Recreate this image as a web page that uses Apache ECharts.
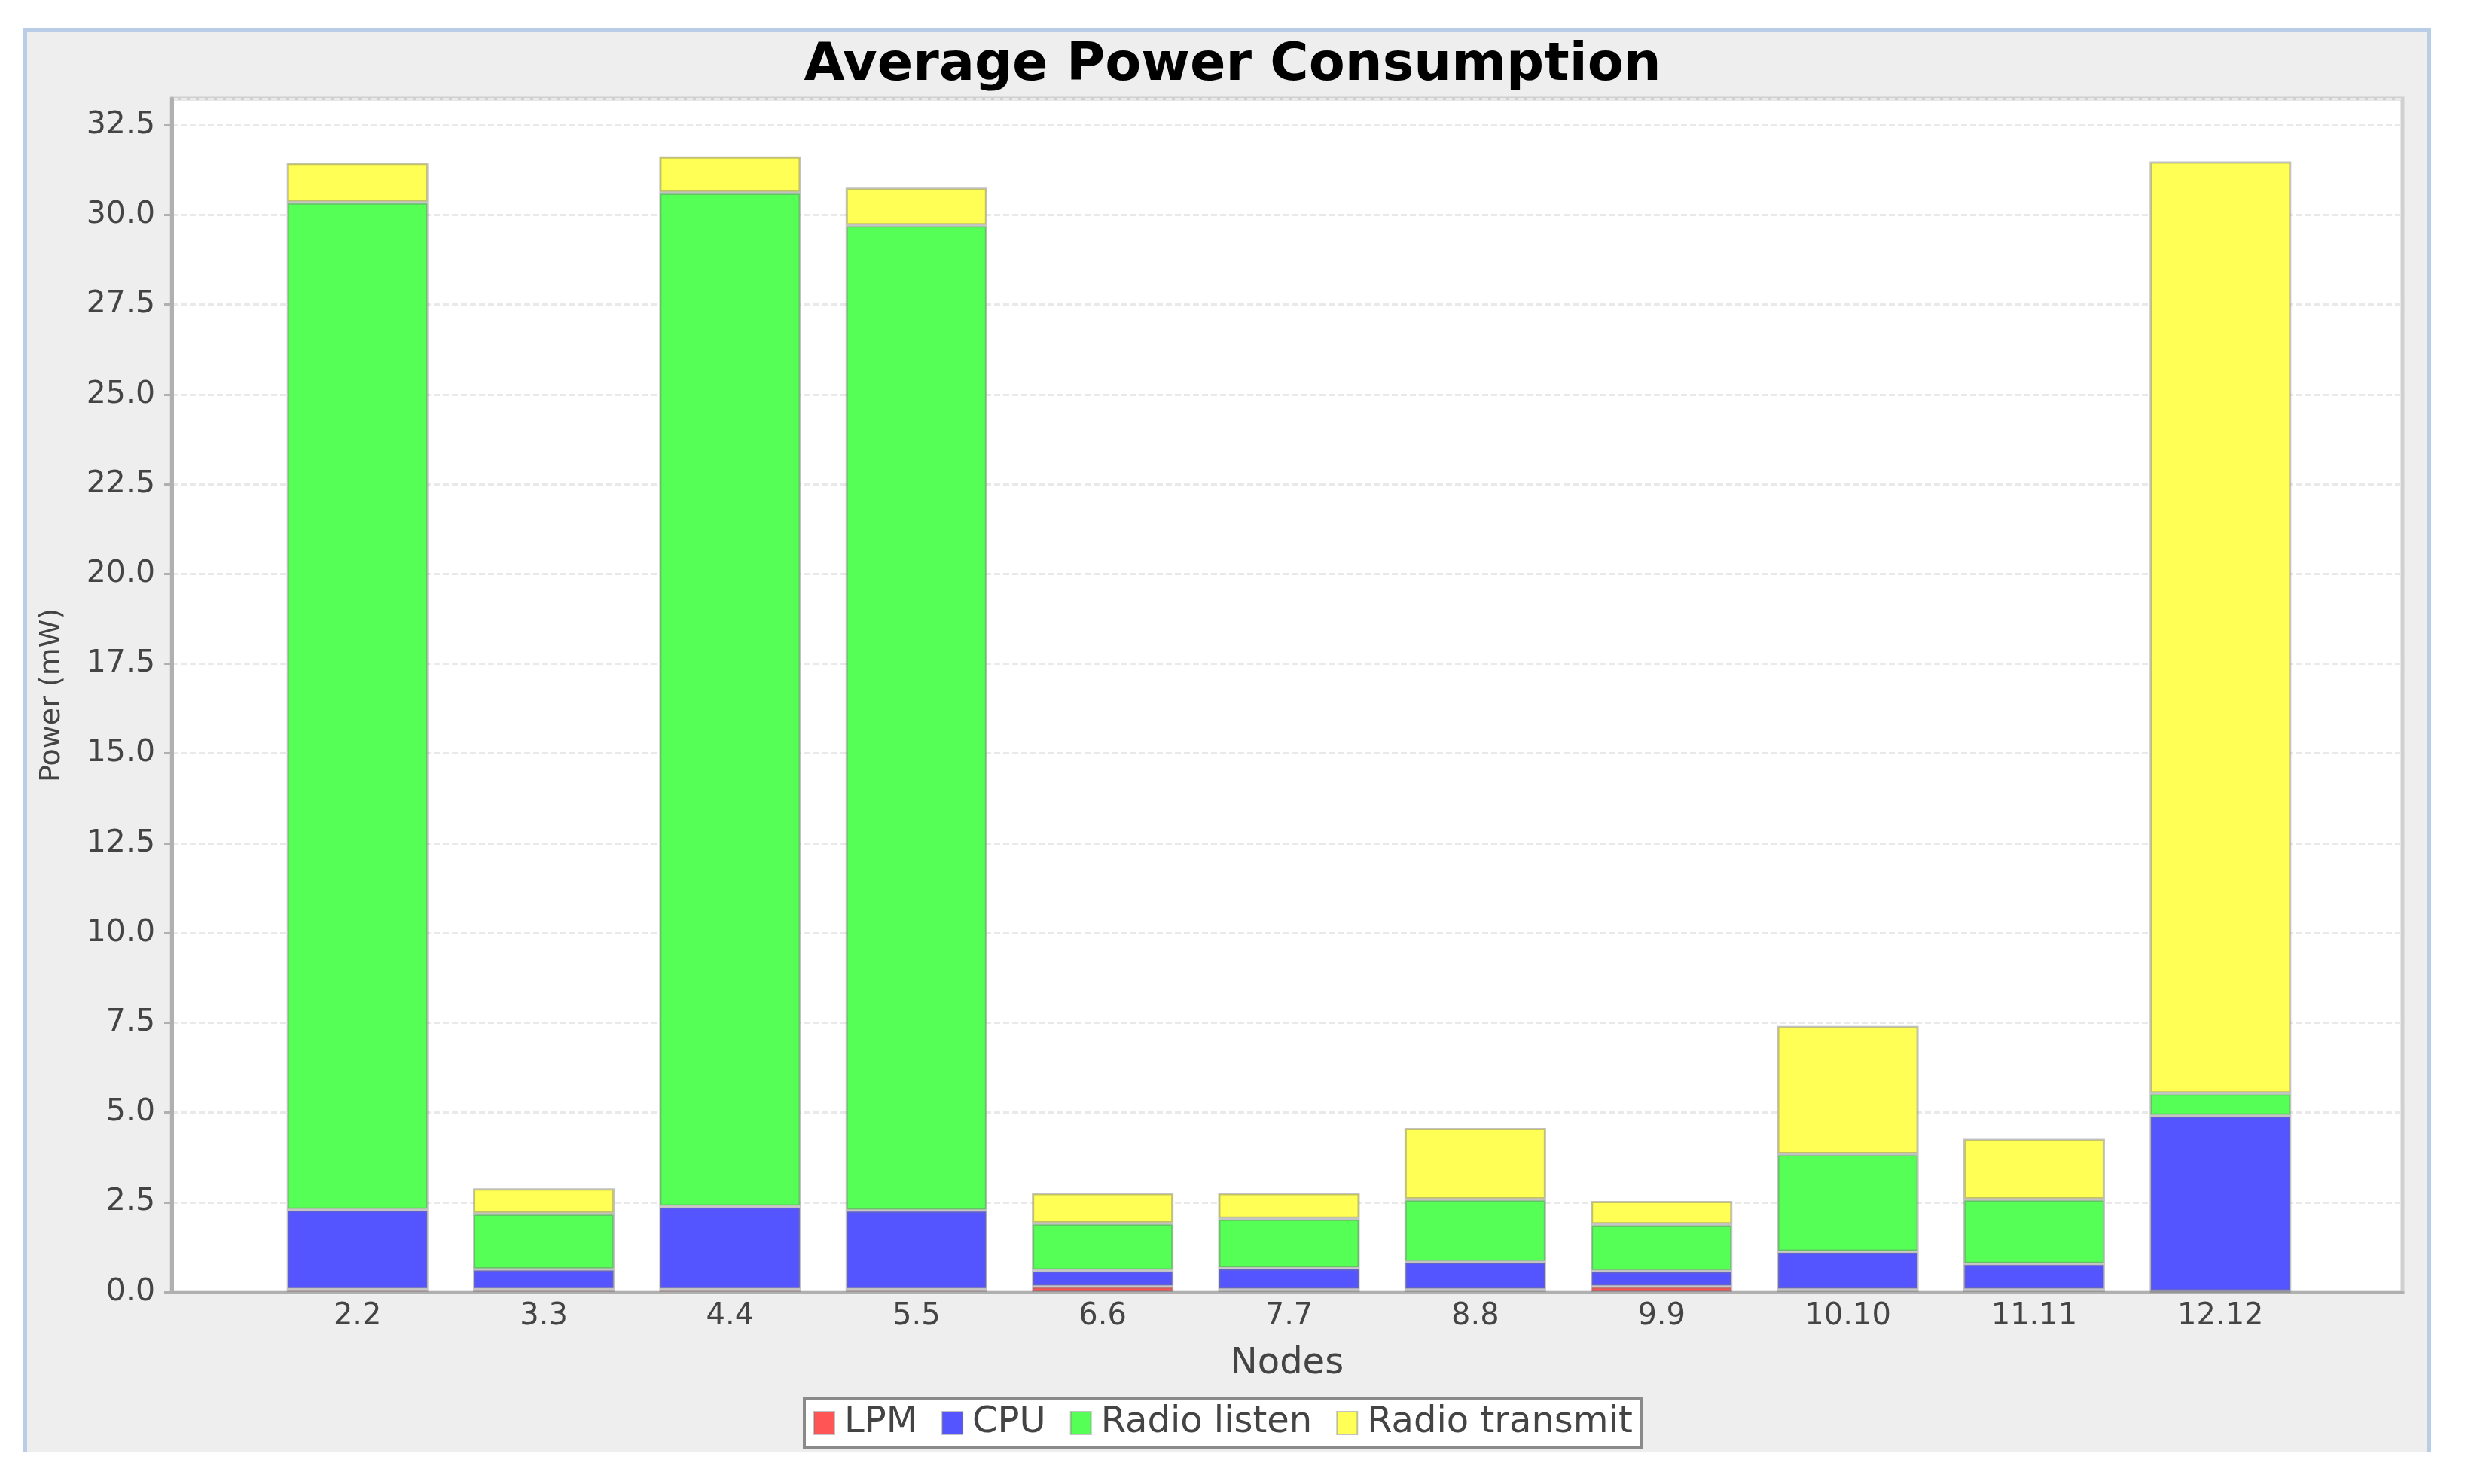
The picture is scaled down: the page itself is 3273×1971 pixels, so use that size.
<!DOCTYPE html>
<html>
<head>
<meta charset="utf-8">
<script src="https://cdn.jsdelivr.net/npm/echarts@6/dist/echarts.min.js"></script>
<style>
html, body { margin: 0; padding: 0; background: #ffffff; }
#chart { width: 3273px; height: 1971px; }
</style>
</head>
<body>
<div id="chart"></div>
<script>
// ---- data ----
const categories = ['2.2', '3.3', '4.4', '5.5', '6.6', '7.7', '8.8', '9.9', '10.10', '11.11', '12.12'];
const seriesNames = ['LPM', 'CPU', 'Radio listen', 'Radio transmit'];
const lpm           = [0.08, 0.08, 0.08, 0.08, 0.15, 0.07, 0.07, 0.15, 0.07, 0.07, 0.02];
const cpu           = [2.21, 0.55, 2.30, 2.19, 0.45, 0.59, 0.77, 0.43, 1.05, 0.71, 4.89];
const radioListen   = [28.06, 1.55, 28.24, 27.44, 1.31, 1.38, 1.74, 1.30, 2.72, 1.80, 0.62];
const radioTransmit = [1.10, 0.71, 1.01, 1.05, 0.85, 0.72, 1.99, 0.66, 3.57, 1.69, 25.96];
const yMin = 0;
const yMax = 33.24;
const yInterval = 2.5;

const seriesValues = [lpm, cpu, radioListen, radioTransmit];
const colors = ['#FF5555', '#5555FF', '#55FF55', '#FFFF55'];
const FONT = 'DejaVu Sans';

const chart = echarts.init(document.getElementById('chart'), null, { renderer: 'canvas' });

const option = {
  backgroundColor: '#ffffff',
  animation: false,
  graphic: [
    {
      type: 'rect', z: -100, silent: true,
      shape: { x: 33, y: 40, width: 3192, height: 1888 },
      style: { fill: '#eeeeee' }
    },
    {
      type: 'polyline', z: -99, silent: true,
      shape: { points: [[33, 1928], [33, 40], [3225, 40], [3225, 1928]] },
      style: { stroke: '#b9cde6', lineWidth: 6, fill: null }
    }
  ],
  title: {
    text: 'Average Power Consumption',
    left: 'center',
    top: 48,
    textStyle: { fontFamily: FONT, fontSize: 70, fontWeight: 'bold', color: '#000000' }
  },
  legend: {
    data: seriesNames,
    left: 1068,
    top: 1858,
    orient: 'horizontal',
    backgroundColor: '#ffffff',
    borderColor: '#8a8a8a',
    borderWidth: 4,
    borderRadius: 0,
    padding: [8, 12],
    itemGap: 32,
    itemWidth: 27,
    itemHeight: 30,
    icon: 'rect',
    textStyle: { fontFamily: FONT, fontSize: 48, color: '#444444', padding: [0, 0, 0, 8] }
  },
  grid: [
    { left: 228, right: 83, top: 131, bottom: 255, show: true, backgroundColor: '#ffffff', borderColor: '#d0d0d0', borderWidth: 5 },
    { left: 351, right: 201, top: 131, bottom: 255 }
  ],
  xAxis: [
    {
      type: 'value', gridIndex: 0, min: 0, max: 1,
      name: 'Nodes', nameLocation: 'middle', nameGap: 72,
      nameTextStyle: { fontFamily: FONT, fontSize: 48, color: '#444444' },
      axisLine: { show: true, lineStyle: { color: '#b0b0b0', width: 5 } },
      axisTick: { show: false },
      axisLabel: { show: false },
      splitLine: { show: false }
    },
    {
      type: 'category', gridIndex: 1, data: categories,
      axisLine: { show: false },
      axisTick: { show: false },
      axisLabel: { fontFamily: FONT, fontSize: 40, color: '#444444', margin: 13 },
      splitLine: { show: false }
    }
  ],
  yAxis: [
    {
      type: 'value', gridIndex: 0, min: yMin, max: yMax, interval: yInterval,
      name: 'Power (mW)', nameLocation: 'middle', nameRotate: 90, nameGap: 140,
      nameTextStyle: { fontFamily: FONT, fontSize: 38, color: '#444444' },
      axisLine: { show: true, lineStyle: { color: '#b0b0b0', width: 5 } },
      axisTick: { show: true, length: 10, lineStyle: { color: '#b0b0b0', width: 3 } },
      axisLabel: {
        fontFamily: FONT, fontSize: 41, color: '#444444', margin: 22,
        showMaxLabel: false,
        formatter: function (v) { return v.toFixed(1); }
      },
      splitLine: { show: true, lineStyle: { color: '#e9e9e9', width: 3, type: [8, 4] } }
    },
    {
      type: 'value', gridIndex: 1, min: yMin, max: yMax, interval: yInterval,
      show: false,
      splitLine: { show: false }
    }
  ],
  series: seriesNames.map(function (name, i) {
    return {
      name: name,
      type: 'bar',
      stack: 'power',
      xAxisIndex: 1,
      yAxisIndex: 1,
      barWidth: '76%',
      data: seriesValues[i],
      itemStyle: { color: colors[i], borderColor: 'rgba(120,120,120,0.45)', borderWidth: 3 }
    };
  })
};

chart.setOption(option);
</script>
</body>
</html>
